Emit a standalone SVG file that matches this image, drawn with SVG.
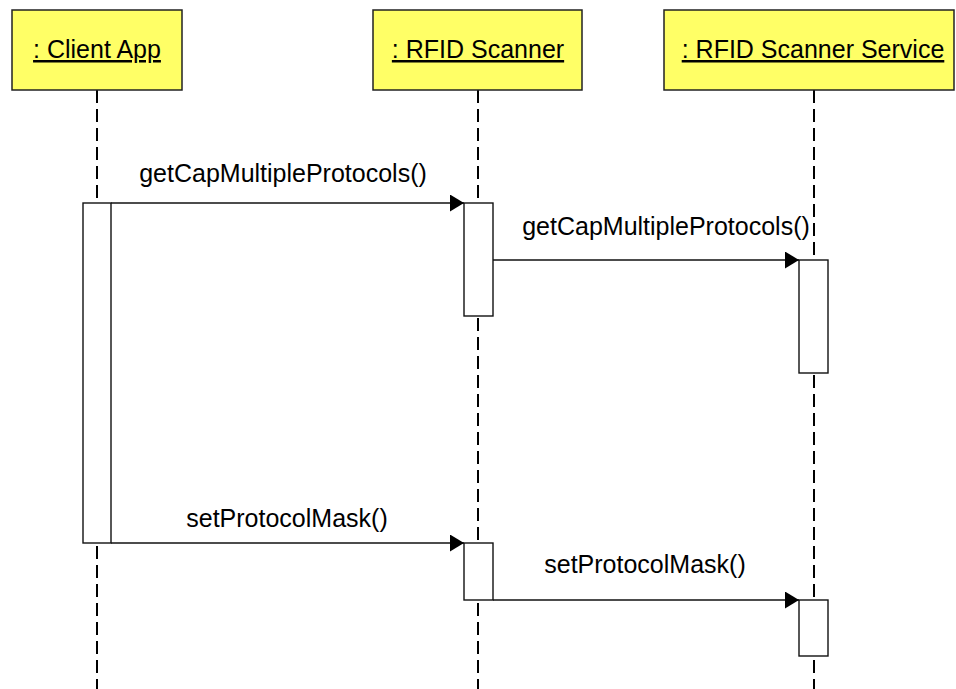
<svg xmlns="http://www.w3.org/2000/svg" width="956" height="689" viewBox="0 0 956 689">
<defs>
<style>
.obj{fill:#ffff66;stroke:#222;stroke-width:1.5}
.lbl{font-family:"Liberation Sans",Arial,sans-serif;font-size:25px;fill:#000;text-anchor:middle}
.ul{text-decoration:underline}
.life{stroke:#000;stroke-width:2;stroke-dasharray:13 6;fill:none}
.act{fill:#fff;stroke:#111;stroke-width:1.4}
.msg{stroke:#111;stroke-width:1.4;fill:none;marker-end:url(#arr)}
</style>
<marker id="arr" viewBox="0 0 14 17" refX="14" refY="8.5" markerWidth="14" markerHeight="17" markerUnits="userSpaceOnUse" orient="auto">
<path d="M0,0 L14,8.5 L0,17 Z" fill="#000"/>
</marker>
</defs>
<rect width="956" height="689" fill="#fff"/>
<g id="lifelines">
<line class="life" x1="97" y1="90" x2="97" y2="689"/>
<line class="life" x1="478" y1="90" x2="478" y2="689"/>
<line class="life" x1="814" y1="90" x2="814" y2="689"/>
</g>
<g id="client">
<rect class="obj" x="12" y="10" width="170" height="80"/>
<text class="lbl ul" x="97" y="58">: Client App</text>
<rect class="act" x="83" y="203" width="28" height="340"/>
</g>
<g id="scanner">
<rect class="obj" x="373" y="10" width="209" height="80"/>
<text class="lbl ul" x="478" y="58">: RFID Scanner</text>
<rect class="act" x="464" y="203" width="29" height="113"/>
<rect class="act" x="464" y="543" width="29" height="57"/>
</g>
<g id="service">
<rect class="obj" x="664" y="10" width="290" height="80"/>
<text class="lbl ul" x="813" y="58">: RFID Scanner Service</text>
<rect class="act" x="799" y="260" width="29" height="113"/>
<rect class="act" x="799" y="600" width="29" height="56"/>
</g>
<g id="connectors">
<line class="msg" x1="111" y1="203" x2="464" y2="203"/>
<text class="lbl" x="283" y="182">getCapMultipleProtocols()</text>
<line class="msg" x1="493" y1="260" x2="799" y2="260"/>
<text class="lbl" x="666" y="235">getCapMultipleProtocols()</text>
<line class="msg" x1="111" y1="543" x2="464" y2="543"/>
<text class="lbl" x="287" y="527">setProtocolMask()</text>
<line class="msg" x1="493" y1="600" x2="799" y2="600"/>
<text class="lbl" x="645" y="573">setProtocolMask()</text>
</g>
</svg>
